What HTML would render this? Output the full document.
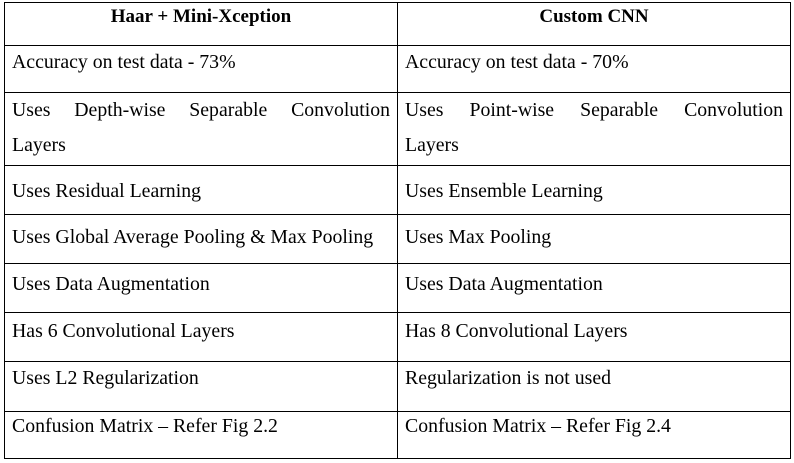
<!DOCTYPE html>
<html><head><meta charset="utf-8"><style>
html,body{margin:0;padding:0;background:#fff;width:794px;height:463px;overflow:hidden}
table{position:absolute;left:4px;top:2px;border-collapse:collapse;width:787px;font-family:"Liberation Serif",serif;font-size:19.8px;color:#000;table-layout:fixed}
td,th{border:1px solid #000;vertical-align:top;padding:0 7px;line-height:33px;height:47px;box-sizing:border-box}
th{font-weight:bold;text-align:center;line-height:28px;height:43px;font-size:19px}
td{text-align:left}
.c1{width:393px}
tr.d td{height:73px;line-height:35px}
.j{text-align:justify;text-align-last:justify}
tr.r3 td{height:49px;padding-top:9px}
tr.r4 td{height:49px;padding-top:6px}
tr.r5 td{height:49px;padding-top:4px}
tr.r6 td{height:49px;padding-top:2px}
tr.r7 td{height:50px}
tr.r8 td{height:47px;line-height:29px}
</style></head><body>
<table>
<tr><th class="c1">Haar + Mini-Xception</th><th>Custom CNN</th></tr>
<tr><td class="c1">Accuracy on test data - 73%</td><td>Accuracy on test data - 70%</td></tr>
<tr class="d"><td class="c1"><div class="j">Uses Depth-wise Separable Convolution</div>Layers</td><td><div class="j">Uses Point-wise Separable Convolution</div>Layers</td></tr>
<tr class="r3"><td class="c1">Uses Residual Learning</td><td>Uses Ensemble Learning</td></tr>
<tr class="r4"><td class="c1">Uses Global Average Pooling &amp; Max Pooling</td><td>Uses Max Pooling</td></tr>
<tr class="r5"><td class="c1">Uses Data Augmentation</td><td>Uses Data Augmentation</td></tr>
<tr class="r6"><td class="c1">Has 6 Convolutional Layers</td><td>Has 8 Convolutional Layers</td></tr>
<tr class="r7"><td class="c1">Uses L2 Regularization</td><td>Regularization is not used</td></tr>
<tr class="r8"><td class="c1">Confusion Matrix – Refer Fig 2.2</td><td>Confusion Matrix – Refer Fig 2.4</td></tr>
</table>
</body></html>
